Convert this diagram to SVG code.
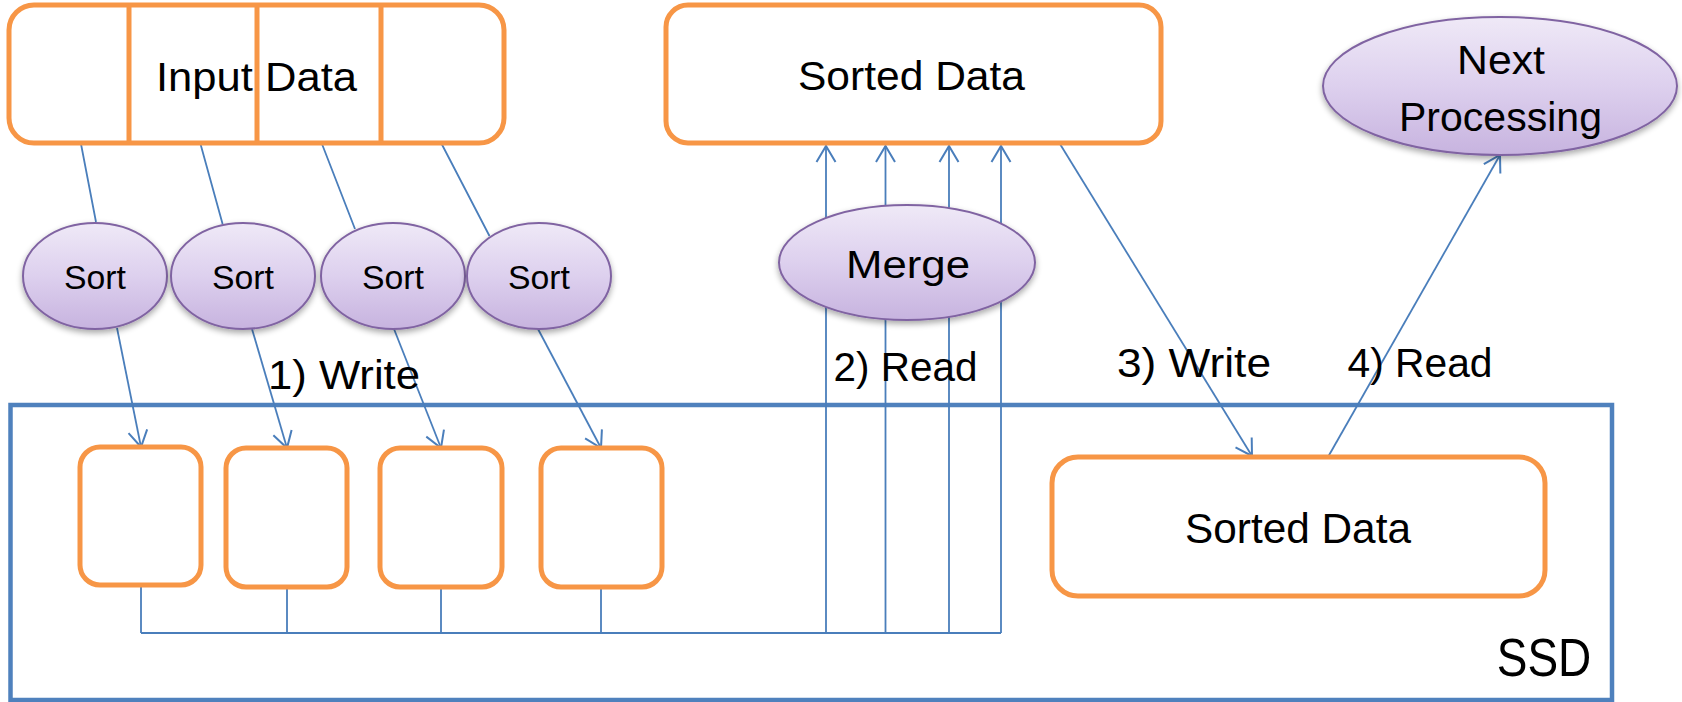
<svg xmlns="http://www.w3.org/2000/svg" width="1682" height="702" viewBox="0 0 1682 702">
  <style>
    text { font-family: "Liberation Sans", Arial, sans-serif; fill: #000; text-anchor: middle; }
    .box { fill: #fff; stroke: #f79646; stroke-width: 5; }
    .divider { stroke: #f79646; stroke-width: 5; }
    .proc { fill: url(#procFill); stroke: #8064a2; stroke-width: 2; filter: url(#shadow); }
    .link { fill: none; stroke: #4a7ebb; stroke-width: 1.8; }
    .arrow { marker-end: url(#open); }
    .ssd { fill: #fff; stroke: #4f81bd; stroke-width: 4.5; }
  </style>
  <defs>
    <linearGradient id="procFill" x1="0" y1="0" x2="0" y2="1">
      <stop offset="0" stop-color="#efe9f7"/>
      <stop offset="0.5" stop-color="#ddd0ee"/>
      <stop offset="1" stop-color="#c7b3df"/>
    </linearGradient>
    <filter id="shadow" x="-20%" y="-20%" width="140%" height="150%">
      <feGaussianBlur in="SourceAlpha" stdDeviation="3"/>
      <feOffset dy="3" result="blur"/>
      <feComponentTransfer><feFuncA type="linear" slope="0.35"/></feComponentTransfer>
      <feMerge><feMergeNode/><feMergeNode in="SourceGraphic"/></feMerge>
    </filter>
    <marker id="open" markerUnits="userSpaceOnUse" viewBox="-18 -12 20 24" refX="0" refY="0" markerWidth="20" markerHeight="24" orient="auto">
      <path d="M-16,-9.5 L0,0 L-16,9.5" fill="none" stroke="#4a7ebb" stroke-width="2"/>
    </marker>
  </defs>

  <!-- SSD container -->
  <g id="ssd">
    <rect class="ssd" x="10.5" y="405" width="1601.5" height="295"/>
    <text x="1544" y="676" font-size="54.5" textLength="94.5" lengthAdjust="spacingAndGlyphs">SSD</text>
  </g>

  <!-- connectors -->
  <g id="connectors">
    <path class="link" d="M81,144L96,222 M200.5,144L222.6,224 M322,144L355,229 M441.7,144L489.5,236"/>
    <path class="link arrow" d="M117,328L141,447"/>
    <path class="link arrow" d="M252,329L287,448"/>
    <path class="link arrow" d="M394,329L441,448"/>
    <path class="link arrow" d="M538,329L601,448"/>
    <path class="link" d="M141,585V633 M287,587V633 M441,587V633 M601,587V633 M141,633H1001"/>
    <path class="link arrow" d="M826,633V146"/>
    <path class="link arrow" d="M885.5,633V146"/>
    <path class="link arrow" d="M949,633V146"/>
    <path class="link arrow" d="M1001,633V146"/>
    <path class="link arrow" d="M1060,144L1252,456"/>
    <path class="link arrow" d="M1328,457L1500,155"/>
    <text x="344" y="389" font-size="41" textLength="152" lengthAdjust="spacingAndGlyphs">1) Write</text>
    <text x="905.5" y="380.5" font-size="41" textLength="144" lengthAdjust="spacingAndGlyphs">2) Read</text>
    <text x="1194" y="377" font-size="41" textLength="154" lengthAdjust="spacingAndGlyphs">3) Write</text>
    <text x="1420" y="377" font-size="41" textLength="145" lengthAdjust="spacingAndGlyphs">4) Read</text>
  </g>

  <!-- input data split into four chunks -->
  <g id="input-data">
    <rect class="box" x="9" y="5" width="495" height="138" rx="25"/>
    <path class="divider" d="M129,5V143 M257,5V143 M381,5V143"/>
    <text x="256.5" y="91" font-size="40.5" textLength="201" lengthAdjust="spacingAndGlyphs">Input Data</text>
  </g>

  <!-- sort workers -->
  <g id="sort-1">
    <ellipse class="proc" cx="95" cy="276" rx="72" ry="53"/>
    <text x="95" y="289" font-size="33.5" textLength="62" lengthAdjust="spacingAndGlyphs">Sort</text>
  </g>
  <g id="sort-2">
    <ellipse class="proc" cx="243" cy="276" rx="72" ry="53"/>
    <text x="243" y="289" font-size="33.5" textLength="62" lengthAdjust="spacingAndGlyphs">Sort</text>
  </g>
  <g id="sort-3">
    <ellipse class="proc" cx="393" cy="276" rx="72" ry="53"/>
    <text x="393" y="289" font-size="33.5" textLength="62" lengthAdjust="spacingAndGlyphs">Sort</text>
  </g>
  <g id="sort-4">
    <ellipse class="proc" cx="539" cy="276" rx="72" ry="53"/>
    <text x="539" y="289" font-size="33.5" textLength="62" lengthAdjust="spacingAndGlyphs">Sort</text>
  </g>

  <!-- sorted runs on the SSD -->
  <g id="run-1"><rect class="box" x="80" y="447" width="121" height="138" rx="20"/></g>
  <g id="run-2"><rect class="box" x="226" y="448" width="121" height="139" rx="20"/></g>
  <g id="run-3"><rect class="box" x="380" y="448" width="122" height="139" rx="20"/></g>
  <g id="run-4"><rect class="box" x="541" y="448" width="121" height="139" rx="20"/></g>

  <g id="merge">
    <ellipse class="proc" cx="907" cy="262.5" rx="128" ry="57.5"/>
    <text x="908" y="278" font-size="39" textLength="124" lengthAdjust="spacingAndGlyphs">Merge</text>
  </g>

  <g id="sorted-data">
    <rect class="box" x="666" y="5" width="495" height="138" rx="22"/>
    <text x="911.5" y="89.5" font-size="41" textLength="227" lengthAdjust="spacingAndGlyphs">Sorted Data</text>
  </g>

  <g id="sorted-data-ssd">
    <rect class="box" x="1052" y="457" width="493" height="139" rx="26"/>
    <text x="1298" y="543" font-size="42" textLength="226" lengthAdjust="spacingAndGlyphs">Sorted Data</text>
  </g>

  <g id="next-processing">
    <ellipse class="proc" cx="1500" cy="86" rx="177" ry="69"/>
    <text x="1501" y="74" font-size="40.5" textLength="88" lengthAdjust="spacingAndGlyphs">Next</text>
    <text x="1500.5" y="131" font-size="40.5" textLength="203" lengthAdjust="spacingAndGlyphs">Processing</text>
  </g>
</svg>
